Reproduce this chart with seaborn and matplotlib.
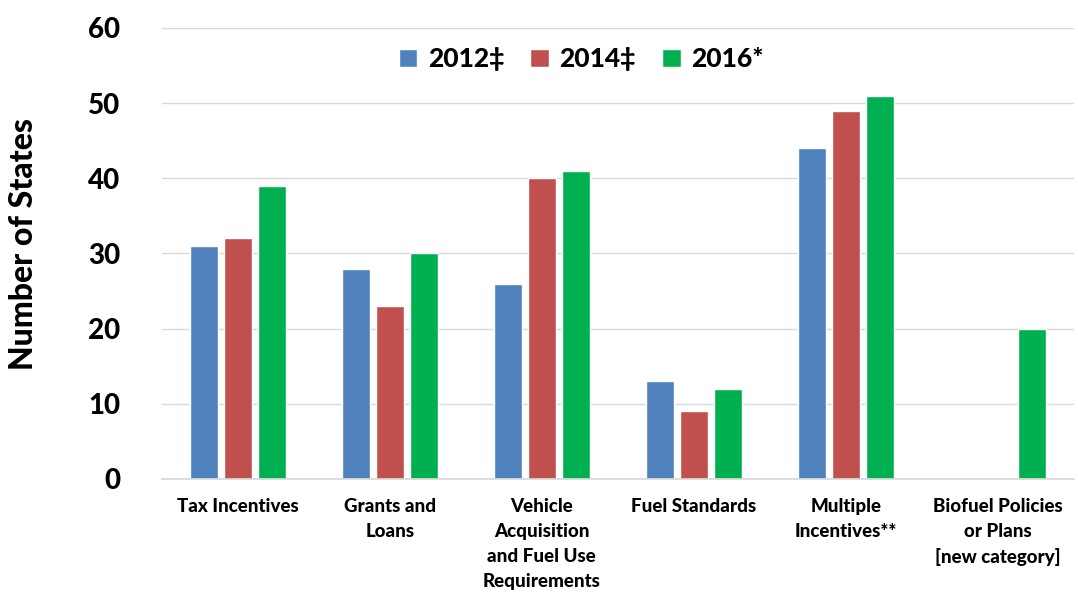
import matplotlib
matplotlib.use("Agg")
import matplotlib.pyplot as plt
import seaborn as sns
import pandas as pd
import numpy as np

categories = ["Tax Incentives", "Grants and\nLoans", "Vehicle\nAcquisition\nand Fuel Use\nRequirements",
              "Fuel Standards", "Multiple\nIncentives**", "Biofuel Policies\nor Plans\n[new category]"]
series_names = ["2012‡", "2014‡", "2016*"]
v2012 = [31, 28, 26, 13, 44, np.nan]
v2014 = [32, 23, 40, 9, 49, np.nan]
v2016 = [39, 30, 41, 12, 51, 20]
colors = ["#4F81BD", "#C0504D", "#00B050"]
yticks = [0, 10, 20, 30, 40, 50, 60]

rows = []
for name, vals in zip(series_names, [v2012, v2014, v2016]):
    for c, v in zip(categories, vals):
        rows.append({"category": c, "year": name, "value": v})
df = pd.DataFrame(rows)

sns.set_theme(style="white")
plt.rcParams["font.family"] = ["Lato", "DejaVu Sans"]
plt.rcParams["text.color"] = "black"
plt.rcParams["xtick.color"] = "black"
plt.rcParams["ytick.color"] = "black"
plt.rcParams["axes.labelcolor"] = "black"
W = "black"

fig = plt.figure(figsize=(10.78, 5.95), dpi=100)
ax = fig.add_axes([0.150, 0.195, 0.846, 0.758])
sns.barplot(data=df, x="category", y="value", hue="year", palette=colors,
            width=0.67, gap=0.18, ax=ax, saturation=1, legend=True)

ax.set_ylim(0, 60)
ax.set_yticks(yticks)
ax.set_xlim(-0.5, len(categories) - 0.5)
ax.yaxis.grid(True, color="#D9D9D9", linewidth=1)
ax.set_axisbelow(True)
for s in ["top", "right", "left"]:
    ax.spines[s].set_visible(False)
ax.spines["bottom"].set_color("#D9D9D9")
ax.tick_params(axis="y", labelsize=20, length=0, pad=30)
ax.tick_params(axis="x", labelsize=13.5, length=0, pad=14)
for t in ax.get_yticklabels():
    t.set_fontweight(W)
for t in ax.get_xticklabels():
    t.set_fontweight(W)
    t.set_linespacing(1.55)
ax.set_xlabel("")
ax.set_ylabel("Number of States", fontsize=23, fontweight=W)
ax.yaxis.set_label_coords(-0.136, 0.52)

ax.legend(loc="upper center", bbox_to_anchor=(0.46, 1.01), ncol=3, frameon=False,
          prop={"size": 19, "weight": W}, handlelength=0.7, handleheight=0.7,
          handletextpad=0.4, columnspacing=1.0)

fig.savefig("out.png", dpi=100)
